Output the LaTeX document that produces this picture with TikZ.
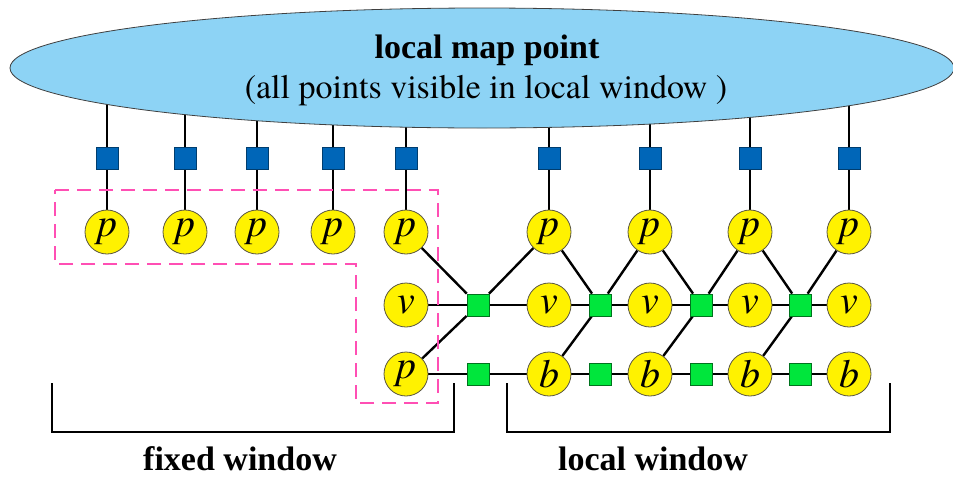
\documentclass[tikz,border=0pt]{standalone}
\usepackage{fontspec}
\newfontfamily\tnr{Liberation Serif}
\newfontfamily\tms{TeX Gyre Termes}
\usetikzlibrary{shapes.geometric,backgrounds}
\definecolor{mapblue}{HTML}{8DD3F5}
\definecolor{sqblue}{HTML}{0066B8}
\definecolor{sqgreen}{HTML}{00E63C}
\definecolor{dashpink}{HTML}{FF4FB4}
\begin{document}
\begin{tikzpicture}[x=1pt,y=-1pt,
  var/.style={circle,draw=black!75!yellow,line width=0.8pt,fill=yellow,minimum size=44pt,inner sep=0pt,
    font=\tms\fontsize{40}{40}\selectfont\itshape},
  bsq/.style={rectangle,draw=sqblue!60!black,line width=0.8pt,fill=sqblue,minimum size=22pt,inner sep=0pt},
  gsq/.style={rectangle,draw=sqgreen!50!black,line width=0.8pt,fill=sqgreen,minimum size=22pt,inner sep=0pt},
  conn/.style={line width=2.4pt,black},
  bracket/.style={line width=2.5pt,black},
  bigtxt/.style={inner sep=0pt,anchor=base,font=\tms\fontsize{34}{40}\selectfont},
  boldtxt/.style={bigtxt,font=\tnr\fontsize{34}{40}\selectfont\bfseries},
]
\useasboundingbox (0,0) rectangle (953,477);
% map ellipse
\node[ellipse,draw=black!75,line width=0.8pt,fill=mapblue,minimum width=944pt,minimum height=120pt,inner sep=0pt] (map) at (482,68) {};
\node[boldtxt] (t1txt) at (487,58) {local map point};
\node[bigtxt] (t2txt) at (486,98) {(all points visible in local window )};
% top row p
\foreach \i/\x in {1/107,2/185,3/257,4/333,5/406,6/549,7/650,8/750,9/849}{
  \node[var] (t\i) at (\x,232) {p};
  \node[bsq] (s\i) at (\x,158) {};
}
% middle row v
\node[var] (m1) at (406,305) {v};
\node[var] (m2) at (549,305) {v};
\node[var] (m3) at (650,305) {v};
\node[var] (m4) at (750,305) {v};
\node[var] (m5) at (849,305) {v};
% bottom row
\node[var] (b1) at (406,374) {p};
\node[var] (b2) at (549,374) {b};
\node[var] (b3) at (650,374) {b};
\node[var] (b4) at (750,374) {b};
\node[var] (b5) at (849,374) {b};
% green factors
\foreach \i/\x in {1/478,2/600,3/701,4/800}{
  \node[gsq] (g\i) at (\x,305) {};
  \node[gsq] (h\i) at (\x,374) {};
}
% labels
\node[boldtxt] (fw) at (240,470) {fixed window};
\node[boldtxt] (lw) at (653,470) {local window};
% dashed region
\draw[dashpink,line width=2.8pt,dash pattern=on 14pt off 8pt]
  (55,190) -- (438,190) -- (438,403) -- (356,403) -- (356,264) -- (55,264) -- cycle;
% brackets
\draw[bracket] (52,383) -- (52,432) -- (454,432) -- (454,383);
\draw[bracket] (507,383) -- (507,432) -- (890,432) -- (890,383);
\begin{scope}[on background layer]
  \foreach \i in {1,...,9}{
    \draw[conn] (s\i) -- (s\i |- map.center);
    \draw[conn] (s\i) -- (t\i);
  }
  \draw[conn] (t5) -- (g1); \draw[conn] (t6) -- (g1); \draw[conn] (b1) -- (g1);
  \draw[conn] (m1) -- (g1) -- (m2);
  \draw[conn] (t6) -- (g2); \draw[conn] (t7) -- (g2); \draw[conn] (b2) -- (g2);
  \draw[conn] (m2) -- (g2) -- (m3);
  \draw[conn] (t7) -- (g3); \draw[conn] (t8) -- (g3); \draw[conn] (b3) -- (g3);
  \draw[conn] (m3) -- (g3) -- (m4);
  \draw[conn] (t8) -- (g4); \draw[conn] (t9) -- (g4); \draw[conn] (b4) -- (g4);
  \draw[conn] (m4) -- (g4) -- (m5);
  \draw[conn] (b1) -- (h1) -- (b2) -- (h2) -- (b3) -- (h3) -- (b4) -- (h4) -- (b5);
\end{scope}
\end{tikzpicture}
\end{document}
